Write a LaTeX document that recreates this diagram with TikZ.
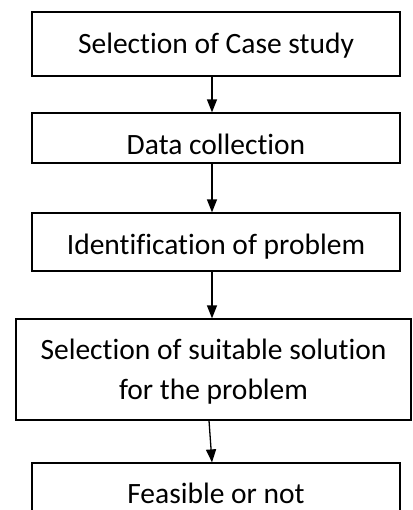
\documentclass[tikz,border=0pt]{standalone}
\usepackage{fontspec}
\setmainfont[Ligatures=NoCommon]{Carlito}
\usetikzlibrary{arrows.meta}
\begin{document}
\begin{tikzpicture}[x=1pt,y=1pt,
  flowbox/.style={draw=black, line width=1.2pt, rectangle, align=center,
    font=\fontsize{29.5}{37}\selectfont, inner sep=0pt, text height=19pt, text depth=0pt},
  flowarrow/.style={line width=1.3pt, -{Triangle[width=10pt,length=13pt]}}]
\useasboundingbox (0,0) rectangle (412,-510);
\clip (0,0) rectangle (412,-510);
\node[flowbox, minimum width=368pt, minimum height=64pt] (b1) at (216,-44) {Selection of Case study};
\node[flowbox, minimum width=368pt, minimum height=50pt, text height=33pt] (b2) at (216,-138) {Data collection};
\node[flowbox, minimum width=368pt, minimum height=58pt, text height=25pt] (b3) at (216,-242) {Identification of problem};
\node[draw=black, line width=1.2pt, rectangle, minimum width=395pt, minimum height=101pt] (b4) at (213.5,-369.5) {};
\node[align=center, font=\fontsize{29.5}{40}\selectfont, inner sep=0pt] (b4t) at (213.5,-372) {Selection of suitable solution\\for the problem};
\node[flowbox, minimum width=368pt, minimum height=62pt] (b5) at (216,-494) {Feasible or not};
\draw[flowarrow] (b1.south -| 212,0) -- (b2.north -| 212,0);
\draw[flowarrow] (b2.south -| 212,0) -- (b3.north -| 212,0);
\draw[flowarrow] (b3.south -| 212,0) -- (b4.north -| 212,0);
\draw[flowarrow] (b4.south -| 209,0) -- (b5.north -| 212,0);
\end{tikzpicture}
\end{document}
